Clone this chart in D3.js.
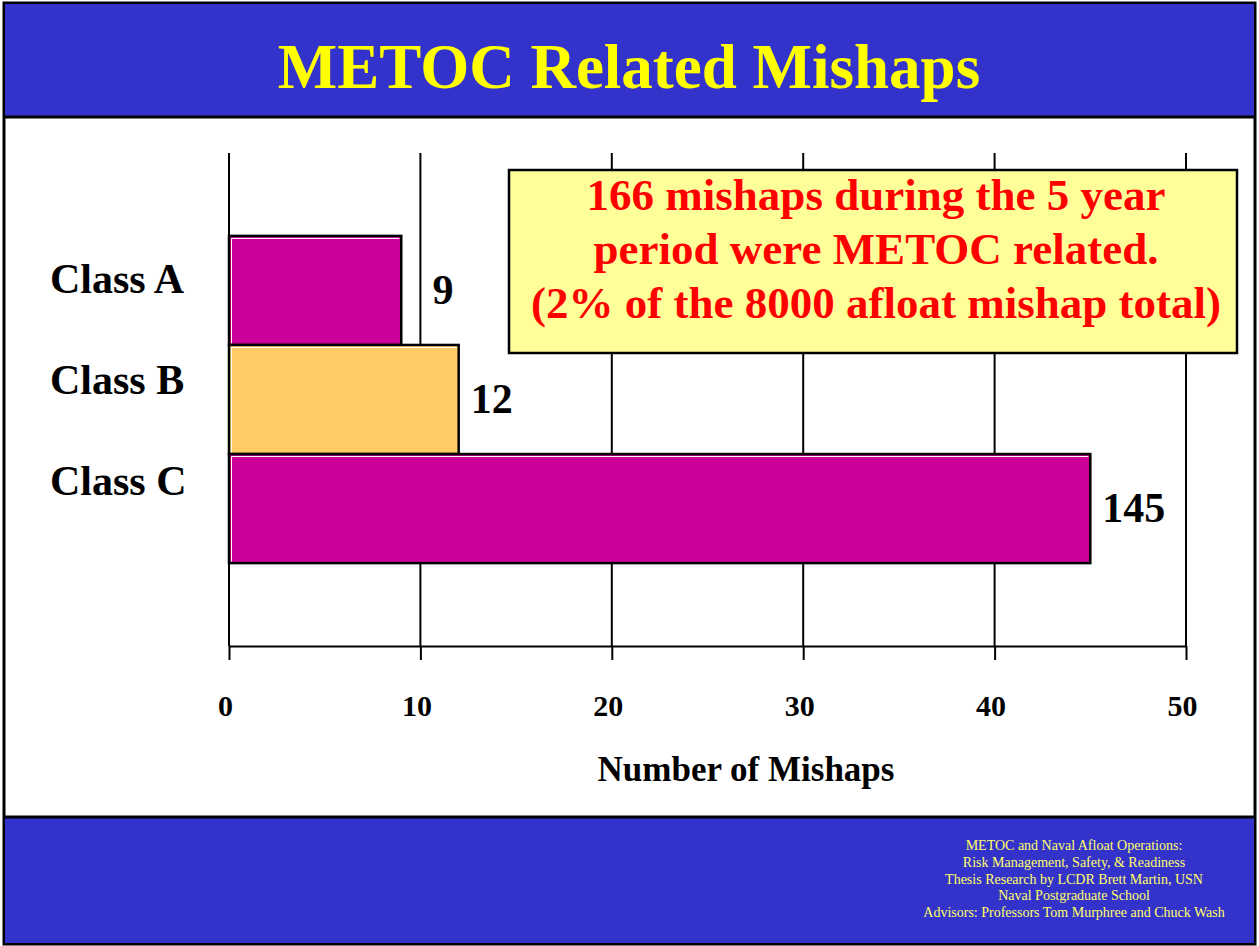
<!DOCTYPE html>
<html>
<head>
<meta charset="utf-8">
<script src="https://cdn.jsdelivr.net/npm/d3@7"></script>
<style>
  html, body { margin: 0; padding: 0; background: #ffffff; }
  svg { display: block; }
  text { font-family: "Liberation Serif", "Times New Roman", serif; }
</style>
</head>
<body>
<svg id="chart"></svg>
<script>
// chart data
const categories = [ "Class A", "Class B", "Class C" ];
const mishaps = [ 9, 12, 145 ];
const barColors = [ "#CC0099", "#FFCC66", "#CC0099" ];
const xTicks = [ 0, 10, 20, 30, 40, 50 ];
const axisCap = 45; // the Class C bar is cut off at 45 on the original slide
const noteLines = [ "166 mishaps during the 5 year", "period were METOC related.", "(2% of the 8000 afloat mishap total)" ];
const footerLines = [
    "METOC and Naval Afloat Operations:",
    "Risk Management, Safety, & Readiness",
    "Thesis Research by LCDR Brett Martin, USN",
    "Naval Postgraduate School",
    "Advisors: Professors Tom Murphree and Chuck Wash"
];

let W = 1259, H = 946;
let svg = d3.select( "#chart" ).attr( "width", W ).attr( "height", H );

// slide frame
svg.append( "rect" ).attr( "x", 4 ).attr( "y", 3 ).attr( "width", W - 8 ).attr( "height", H - 5 )
    .attr( "fill", "#ffffff" ).attr( "stroke", "#000" ).attr( "stroke-width", 3 );
svg.append( "rect" ).attr( "x", 5 ).attr( "y", 4 ).attr( "width", W - 10 ).attr( "height", 112 ).attr( "fill", "#3333CC" );
svg.append( "line" ).attr( "x1", 4 ).attr( "x2", W - 4 ).attr( "y1", 117 ).attr( "y2", 117 ).attr( "stroke", "#000" ).attr( "stroke-width", 3 );
svg.append( "rect" ).attr( "x", 5 ).attr( "y", 818 ).attr( "width", W - 10 ).attr( "height", 125 ).attr( "fill", "#3333CC" );
svg.append( "line" ).attr( "x1", 4 ).attr( "x2", W - 4 ).attr( "y1", 817 ).attr( "y2", 817 ).attr( "stroke", "#000" ).attr( "stroke-width", 3 );

svg.append( "text" ).attr( "x", 629 ).attr( "y", 88 ).attr( "text-anchor", "middle" )
    .attr( "font-size", 63 ).attr( "font-weight", "bold" ).attr( "fill", "#FFFF00" )
    .text( "METOC Related Mishaps" );

// scales
let x = d3.scaleLinear().domain( [ 0, 50 ] ).range( [ 229, 1186 ] );
let y = d3.scaleBand().domain( categories ).range( [ 153, 646 ] ).paddingInner( 0 ).paddingOuter( 0.76 );
let labelY = d3.scalePoint().domain( categories ).range( [ 279, 481 ] );

// gridlines
svg.append( "g" ).selectAll( "line" ).data( xTicks ).enter().append( "line" )
    .attr( "x1", d => x( d ) ).attr( "x2", d => x( d ) )
    .attr( "y1", 153 ).attr( "y2", 646 )
    .attr( "stroke", "#000" ).attr( "stroke-width", 2 );

// x axis
let xAxis = svg.append( "g" ).attr( "transform", "translate(0,646)" )
    .call( d3.axisBottom( x ).tickValues( xTicks ).tickSize( 14 ).tickSizeOuter( 0 ).tickPadding( 35 ) );
xAxis.select( ".domain" ).attr( "stroke", "#000" ).attr( "stroke-width", 2 );
xAxis.selectAll( ".tick line" ).attr( "stroke", "#000" ).attr( "stroke-width", 2 );
xAxis.selectAll( ".tick text" ).attr( "font-family", "Liberation Serif" ).attr( "font-size", 30 )
    .attr( "font-weight", "bold" ).attr( "fill", "#000" ).attr( "dx", -4 );

svg.append( "text" ).attr( "x", 746 ).attr( "y", 781 ).attr( "text-anchor", "middle" )
    .attr( "font-size", 35 ).attr( "font-weight", "bold" ).attr( "fill", "#000" )
    .text( "Number of Mishaps" );

// bars
let bars = svg.append( "g" ).selectAll( "g" ).data( categories ).enter().append( "g" );
bars.append( "rect" )
    .attr( "x", x( 0 ) )
    .attr( "y", d => y( d ) )
    .attr( "width", ( d, i ) => x( Math.min( mishaps[ i ], axisCap ) ) - x( 0 ) )
    .attr( "height", y.bandwidth() )
    .attr( "fill", ( d, i ) => barColors[ i ] )
    .attr( "stroke", "#000" ).attr( "stroke-width", 2.5 );
// thin highlight on the top/left edge
bars.append( "path" )
    .attr( "d", ( d, i ) => {
        let x0 = x( 0 ) + 2.5, y0 = y( d ) + 2.5, x1 = x( Math.min( mishaps[ i ], axisCap ) ) - 2;
        return "M" + x0 + "," + ( y0 + y.bandwidth() - 4 ) + "V" + y0 + "H" + x1;
    } )
    .attr( "fill", "none" ).attr( "stroke", "#ffffff" ).attr( "stroke-width", 1 );

// value labels, nudged past a gridline if they would sit on one
bars.append( "text" )
    .attr( "font-size", 42 ).attr( "font-weight", "bold" ).attr( "fill", "#000" )
    .attr( "y", d => y( d ) + y.bandwidth() / 2 ).attr( "dy", "0.33em" )
    .text( ( d, i ) => mishaps[ i ] )
    .attr( "x", function ( d, i ) {
        let start = x( Math.min( mishaps[ i ], axisCap ) ) + 12;
        let w = this.getComputedTextLength();
        xTicks.forEach( function ( t ) {
            if( x( t ) > start - 3 && x( t ) < start + w ) start = x( t ) + 12;
        } );
        return start;
    } );

// category labels
svg.append( "g" ).selectAll( "text" ).data( categories ).enter().append( "text" )
    .attr( "x", 50 ).attr( "y", d => labelY( d ) ).attr( "dy", "0.33em" )
    .attr( "font-size", 42 ).attr( "font-weight", "bold" ).attr( "fill", "#000" )
    .text( d => d );

// note box
svg.append( "rect" ).attr( "x", 509 ).attr( "y", 170 ).attr( "width", 728 ).attr( "height", 183 )
    .attr( "fill", "#FFFF99" ).attr( "stroke", "#000" ).attr( "stroke-width", 2.5 );
svg.append( "g" ).selectAll( "text" ).data( noteLines ).enter().append( "text" )
    .attr( "x", 876 ).attr( "y", ( d, i ) => 210 + i * 54 )
    .attr( "text-anchor", "middle" ).attr( "font-size", 45 ).attr( "font-weight", "bold" ).attr( "fill", "#FF0000" )
    .text( d => d );

// footer
svg.append( "g" ).selectAll( "text" ).data( footerLines ).enter().append( "text" )
    .attr( "x", 1074 ).attr( "y", ( d, i ) => 850 + i * 16.8 )
    .attr( "text-anchor", "middle" ).attr( "font-size", 14 ).attr( "fill", "#FFFF66" )
    .text( d => d );
</script>
</body>
</html>
